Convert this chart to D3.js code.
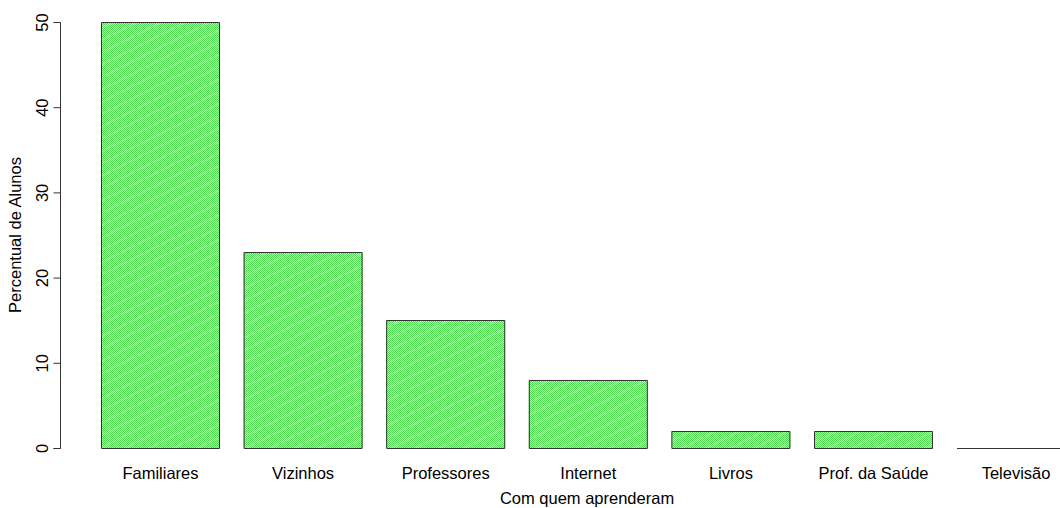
<!DOCTYPE html>
<html>
<head>
<meta charset="utf-8">
<script src="https://cdn.jsdelivr.net/npm/d3@7"></script>
<style>
  html, body { margin: 0; padding: 0; background: #fff; }
  svg { display: block; font-family: "Liberation Sans", Arial, sans-serif; }
</style>
</head>
<body>
<svg id="chart" width="1060" height="508"></svg>
<script>
// Percentual de alunos por fonte de aprendizagem
const categories = ["Familiares", "Vizinhos", "Professores", "Internet", "Livros", "Prof. da Saúde", "Televisão"];
const values = [50, 23, 15, 8, 2, 2, 0];
const yTicks = [0, 10, 20, 30, 40, 50];
const xTitle = "Com quem aprenderam";
const yTitle = "Percentual de Alunos";

const svg = d3.select("#chart");

const plot = { left: 101, top: 22, bottom: 448 };
const step = 142.6, barW = 119;
const fontSize = 16.5;

// Band positions: each bar occupies barW inside a step of width step
const x = d3.scaleBand()
  .domain(categories)
  .range([plot.left - (step - barW) / 2, plot.left - (step - barW) / 2 + step * categories.length])
  .paddingInner((step - barW) / step)
  .paddingOuter((step - barW) / step / 2);

const y = d3.scaleLinear().domain([0, 50]).range([plot.bottom, plot.top]);

// Dense green hatching fill
const defs = svg.append("defs");
const pat = defs.append("pattern")
  .attr("id", "hatch")
  .attr("patternUnits", "userSpaceOnUse")
  .attr("width", 2).attr("height", 2);
pat.append("rect").attr("width", 2).attr("height", 2).attr("fill", "#b4f0b4");
pat.append("rect").attr("width", 1).attr("height", 1).attr("fill", "#4fd84f");
pat.append("rect").attr("x", 1).attr("y", 1).attr("width", 1).attr("height", 1).attr("fill", "#4fd84f");

const streak = defs.append("pattern")
  .attr("id", "streak")
  .attr("patternUnits", "userSpaceOnUse")
  .attr("width", 40).attr("height", 11)
  .attr("patternTransform", "rotate(-27)");
streak.append("line")
  .attr("x1", 0).attr("x2", 40).attr("y1", 5).attr("y2", 5)
  .attr("stroke", "#ffffff").attr("stroke-width", 0.8).attr("stroke-opacity", 0.5);

const bars = svg.append("g");
bars.selectAll("rect.fill")
  .data(values)
  .join("rect")
  .attr("class", "fill")
  .attr("x", (d, i) => x(categories[i]))
  .attr("y", d => y(d))
  .attr("width", x.bandwidth())
  .attr("height", d => y(0) - y(d))
  .attr("fill", "url(#hatch)");
bars.selectAll("rect.streak")
  .data(values)
  .join("rect")
  .attr("class", "streak")
  .attr("x", (d, i) => x(categories[i]))
  .attr("y", d => y(d))
  .attr("width", x.bandwidth())
  .attr("height", d => y(0) - y(d))
  .attr("fill", "url(#streak)");
// Outlines as paths so zero-height bars still show as a line
bars.selectAll("path.outline")
  .data(values)
  .join("path")
  .attr("class", "outline")
  .attr("d", (d, i) => {
    const x0 = x(categories[i]) + 0.5, x1 = x(categories[i]) + x.bandwidth() - 0.5;
    const y0 = Math.round(y(0)) + 0.5, y1 = Math.round(y(d)) + 0.5;
    return `M${x0},${y0}H${x1}V${y1}H${x0}Z`;
  })
  .attr("fill", "none")
  .attr("stroke", "#333")
  .attr("stroke-width", 1);

// Y axis (R style: ticks to the left, labels rotated)
const yAxis = d3.axisLeft(y).tickValues(yTicks).tickSize(7).tickPadding(4);
const gy = svg.append("g").attr("transform", "translate(60.5,0)").call(yAxis);
gy.select(".domain").attr("d", `M-7,${y(0)}.5H0V${y(50)}.5H-7`).attr("stroke", "#333");
gy.selectAll(".tick line").attr("stroke", "#333");
gy.selectAll(".tick text")
  .attr("font-size", fontSize)
  .attr("fill", "#000")
  .attr("transform", "rotate(-90)")
  .attr("x", 0)
  .attr("y", -13)
  .attr("text-anchor", "middle")
  .attr("dy", 0);

// Category labels
svg.append("g").selectAll("text")
  .data(categories)
  .join("text")
  .attr("x", d => x(d) + x.bandwidth() / 2)
  .attr("y", 479)
  .attr("text-anchor", "middle")
  .attr("font-size", fontSize)
  .attr("fill", "#000")
  .text(d => d);

// Axis titles
svg.append("text")
  .attr("x", 587).attr("y", 504)
  .attr("text-anchor", "middle")
  .attr("font-size", fontSize)
  .text(xTitle);

svg.append("text")
  .attr("transform", "translate(21,235) rotate(-90)")
  .attr("text-anchor", "middle")
  .attr("font-size", fontSize)
  .text(yTitle);
</script>
</body>
</html>
